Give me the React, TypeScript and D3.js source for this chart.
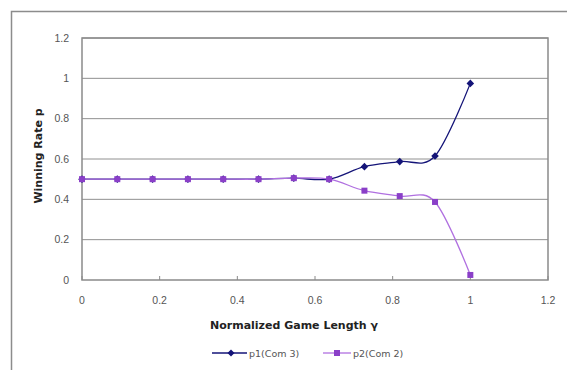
import React from "react";
import * as d3 from "d3";

// Normalized game length γ (12 equally spaced stages) and winning rates
const gamma = [0, 1 / 11, 2 / 11, 3 / 11, 4 / 11, 5 / 11, 6 / 11, 7 / 11, 8 / 11, 9 / 11, 10 / 11, 1];
const p1 = [0.5, 0.5, 0.5, 0.5, 0.5, 0.5, 0.505, 0.5, 0.562, 0.587, 0.615, 0.975];
const p2 = [0.5, 0.5, 0.5, 0.5, 0.5, 0.5, 0.505, 0.5, 0.443, 0.416, 0.387, 0.025];
const xTicks = [0, 0.2, 0.4, 0.6, 0.8, 1, 1.2];
const yTicks = [0, 0.2, 0.4, 0.6, 0.8, 1, 1.2];
const seriesNames = ["p1(Com 3)", "p2(Com 2)"];

const W = 567;
const H = 370;
const plot = { left: 82, top: 38, right: 548, bottom: 280 };
const font = "'Liberation Sans', Arial, sans-serif";
const wide = "'DejaVu Sans', sans-serif";
const c1 = "#141478";
const c2 = "#b070e0";
const c2m = "#8a3fc8";

export default function App() {
  const x = d3.scaleLinear().domain([0, 1.2]).range([plot.left, plot.right]);
  const y = d3.scaleLinear().domain([0, 1.2]).range([plot.bottom, plot.top]);
  const line = d3
    .line<number>()
    .x((_, i) => x(gamma[i]))
    .y((d) => y(d))
    .curve(d3.curveCardinal.tension(0));

  const fmt = (v: number) => (v === 0 ? "0" : String(+v.toFixed(1)));

  return (
    <svg
      width={W}
      height={H}
      style={{ position: "absolute", left: 0, top: 0, display: "block" }}
      fontFamily={font}
    >
      <rect x={0} y={0} width={W} height={H} fill="#fff" />
      {/* chart area frame */}
      <path d={`M11.5,${H} V11.5 H${W}`} fill="none" stroke="#8c8c8c" strokeWidth={1.5} />

      {/* gridlines */}
      {yTicks.slice(1).map((t) => (
        <line key={t} x1={plot.left} x2={plot.right} y1={y(t)} y2={y(t)} stroke="#909090" strokeWidth={1} />
      ))}
      {/* plot border */}
      <rect
        x={plot.left}
        y={plot.top}
        width={plot.right - plot.left}
        height={plot.bottom - plot.top}
        fill="none"
        stroke="#8a8a8a"
        strokeWidth={1.5}
      />
      {/* x tick marks */}
      {xTicks.map((t) => (
        <line key={t} x1={x(t)} x2={x(t)} y1={plot.bottom} y2={plot.bottom - 4} stroke="#8a8a8a" />
      ))}

      {/* tick labels */}
      {yTicks.map((t) => (
        <text key={t} x={69} y={y(t)} dy="0.35em" textAnchor="end" fontSize={10.5} fill="#555">
          {fmt(t)}
        </text>
      ))}
      {xTicks.map((t) => (
        <text key={t} x={x(t)} y={304} textAnchor="middle" fontSize={10.5} fill="#555">
          {fmt(t)}
        </text>
      ))}

      {/* axis titles */}
      <text
        transform={`translate(42,156) rotate(-90)`}
        textAnchor="middle"
        fontSize={11}
        fontWeight="bold"
        fontFamily={wide}
        fill="#222"
      >
        Winning Rate p
      </text>
      <text x={294} y={329} textAnchor="middle" fontSize={11} fontWeight="bold" fontFamily={wide} fill="#222">
        Normalized Game Length  γ
      </text>

      {/* series: p2 is drawn over p1 */}
      <path d={line(p1) ?? ""} fill="none" stroke={c1} strokeWidth={1.3} />
      {p1.map((v, i) => (
        <path
          key={i}
          d={`M${x(gamma[i])},${y(v) - 3.8} l3.8,3.8 l-3.8,3.8 l-3.8,-3.8 Z`}
          fill={c1}
        />
      ))}
      <path d={line(p2) ?? ""} fill="none" stroke={c2} strokeWidth={1.3} />
      {p2.map((v, i) => (
        <rect key={i} x={x(gamma[i]) - 3} y={y(v) - 3} width={6} height={6} fill={c2m} />
      ))}

      {/* legend */}
      <g fontSize={9.5} fill="#555" fontFamily={wide}>
        <line x1={212} x2={247} y1={353} y2={353} stroke={c1} strokeWidth={1.3} />
        <path d={`M231,${353 - 3.5} l3.5,3.5 l-3.5,3.5 l-3.5,-3.5 Z`} fill={c1} />
        <text x={249} y={356.5}>{seriesNames[0]}</text>
        <line x1={323} x2={351} y1={353} y2={353} stroke={c2} strokeWidth={1.3} />
        <rect x={334} y={350} width={6} height={6} fill={c2m} />
        <text x={353} y={356.5}>{seriesNames[1]}</text>
      </g>
    </svg>
  );
}
